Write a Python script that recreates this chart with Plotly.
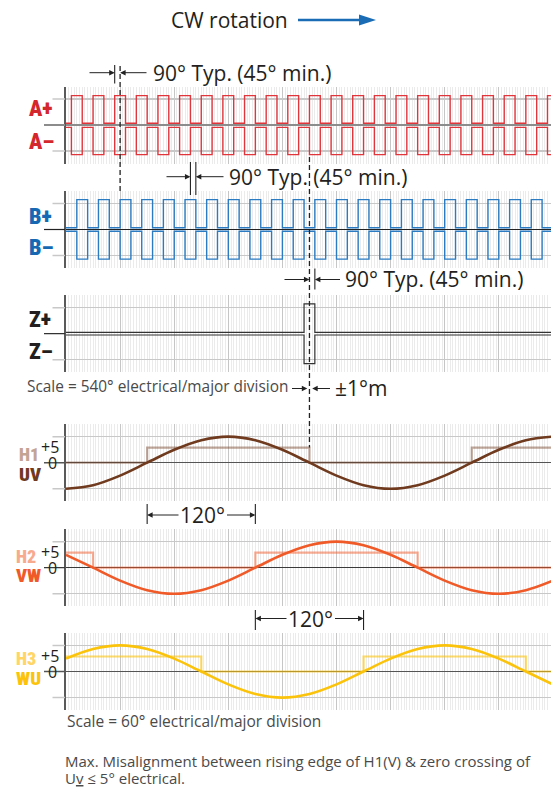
import plotly.graph_objects as go

W, H = 551, 787

# ---------------- data ----------------
# Encoder channels: x measured in major divisions (540 deg electrical per division)
A_RISE = [0.1, 0.5, 0.9, 1.3, 1.7, 2.1, 2.5, 2.9, 3.3, 3.7, 4.1, 4.5,
          4.9, 5.3, 5.7, 6.1, 6.5, 6.9, 7.3, 7.7, 8.1, 8.5, 8.9]
A_FALL = [0.3, 0.7, 1.1, 1.5, 1.9, 2.3, 2.7, 3.1, 3.5, 3.9, 4.3, 4.7,
          5.1, 5.5, 5.9, 6.3, 6.7, 7.1, 7.5, 7.9, 8.3, 8.7, 9.1]
B_RISE = [0.2, 0.6, 1.0, 1.4, 1.8, 2.2, 2.6, 3.0, 3.4, 3.8, 4.2, 4.6,
          5.0, 5.4, 5.8, 6.2, 6.6, 7.0, 7.4, 7.8, 8.2, 8.6]
B_FALL = [0.4, 0.8, 1.2, 1.6, 2.0, 2.4, 2.8, 3.2, 3.6, 4.0, 4.4, 4.8,
          5.2, 5.6, 6.0, 6.4, 6.8, 7.2, 7.6, 8.0, 8.4, 8.8]
Z_RISE = [4.4]
Z_FALL = [4.6]

# (idle level, active level) for each line, grid lines sit at +/-1
A_PLUS_LEVELS = (0.07, 1.13)
A_MINUS_LEVELS = (-0.09, -1.14)
B_PLUS_LEVELS = (0.07, 1.15)
B_MINUS_LEVELS = (-0.07, -1.14)
Z_PLUS_LEVELS = (0.05, 1.15)
Z_MINUS_LEVELS = (-0.05, -1.15)

# Hall / commutation signals: x in electrical degrees (60 deg per division)
DEG = [0, 30, 60, 90, 120, 150, 180, 210, 240, 270, 300, 330,
       360, 390, 420, 450, 480, 510, 540]
UV_WAVE = [-8.7, -7.5, -4.3, 0, 4.3, 7.5, 8.7, 7.5, 4.3, 0, -4.3, -7.5,
           -8.7, -7.5, -4.3, 0, 4.3, 7.5, 8.7]
VW_WAVE = [4.3, 0, -4.3, -7.5, -8.7, -7.5, -4.3, 0, 4.3, 7.5, 8.7, 7.5,
           4.3, 0, -4.3, -7.5, -8.7, -7.5, -4.3]
WU_WAVE = [4.3, 7.5, 8.7, 7.5, 4.3, 0, -4.3, -7.5, -8.7, -7.5, -4.3, 0,
           4.3, 7.5, 8.7, 7.5, 4.3, 0, -4.3]

H1_EDGES = [0, 90, 270, 450, 540]
H1_LEVELS = [0, 5, 0, 5, 5]
H2_EDGES = [0, 30, 210, 390, 540]
H2_LEVELS = [5, 0, 5, 0, 0]
H3_EDGES = [0, 150, 330, 510, 540]
H3_LEVELS = [5, 0, 5, 0, 0]

HALL_HIGH = 5
HALL_PEAK = 8.67

# ---------------- geometry ----------------
AX_LEFT = 66.0          # px of the left axis line
DIV_PX = 54.1           # px per major division
X_MAX = (W - AX_LEFT) / DIV_PX
HALF = 38.5             # half height of each strip in px
GRID_PX = 26.0          # px from centre to the outer grid lines
ENC_R = HALF / GRID_PX
HALL_R = HALF / (GRID_PX / HALL_PEAK)

CENTERS = [125.0, 229.5, 333.7, 462.7, 567.7, 671.5]


def px(x):
    return x / W


def py(y):
    return 1 - y / H


def div_of(xpx):
    return (xpx - AX_LEFT) / DIV_PX


def deg_of(xpx):
    return (xpx - AX_LEFT) / DIV_PX * 60


TEXT_FONT = "Open Sans, Noto Sans, sans-serif"
LABEL_FONT = "Roboto Condensed, Roboto, sans-serif"
INK = "#231f20"
NOTE = "#4a4a4a"

RED, RED_LABEL = "#e1353c", "#d4262d"
BLUE, BLUE_LABEL = "#2a7bc1", "#1668b2"
BROWN = "#6f3a1e"
ORANGE = "#f05a28"
GOLD = "#fcc30b"


def rgba(hexc, a):
    h = hexc.lstrip("#")
    r, g, b = int(h[0:2], 16), int(h[2:4], 16), int(h[4:6], 16)
    return f"rgba({r},{g},{b},{a})"


def pulse_xy(rises, falls, levels, x_end):
    idle, active = levels
    xs, ys = [0], [idle]
    for r, f in zip(rises, falls):
        xs += [r, f]
        ys += [active, idle]
    xs.append(x_end)
    ys.append(ys[-1])
    return xs, ys


fig = go.Figure()
layout = dict(width=W, height=H, margin=dict(l=0, r=0, t=0, b=0),
              paper_bgcolor="white", plot_bgcolor="white", showlegend=False,
              hovermode=False, font=dict(family=TEXT_FONT, color=INK))

zero_styles = [("#8c8c8c", 2.2), ("#222222", 1.2), (None, 0),
               ("#555555", 1.5), ("#3a3a3a", 1.2), ("#555555", 1.5)]

for i, c in enumerate(CENTERS):
    n = "" if i == 0 else str(i + 1)
    hall = i >= 3
    zc, zw = zero_styles[i]
    layout["xaxis" + n] = dict(
        domain=[px(AX_LEFT), 1], anchor="y" + n,
        range=[0, X_MAX * (60 if hall else 1)],
        tick0=0, dtick=60 if hall else 1,
        showgrid=True, gridcolor="#c6c6c6", gridwidth=1,
        minor=dict(dtick=3 if hall else 0.05, showgrid=True,
                   gridcolor="#ebebeb", gridwidth=1),
        showticklabels=False, ticks="", zeroline=False, showline=False,
        fixedrange=True)
    r = HALL_R if hall else ENC_R
    g = HALL_PEAK if hall else 1
    layout["yaxis" + n] = dict(
        domain=[py(c + HALF), py(c - HALF)], anchor="x" + n,
        range=[-r, r], tickvals=[-g, g], showgrid=True,
        gridcolor="#c8c8c8", gridwidth=1.5,
        zeroline=zc is not None, zerolinecolor=zc or "#000", zerolinewidth=zw or 1,
        showline=True, linecolor="#5a5a5a", linewidth=2,
        showticklabels=False, ticks="", fixedrange=True)

# ---------------- encoder traces ----------------
enc = [
    ("x", "y", A_RISE, A_FALL, A_PLUS_LEVELS, RED, 1.4),
    ("x", "y", A_RISE, A_FALL, A_MINUS_LEVELS, RED, 1.4),
    ("x2", "y2", B_RISE, B_FALL, B_PLUS_LEVELS, BLUE, 1.4),
    ("x2", "y2", B_RISE, B_FALL, B_MINUS_LEVELS, BLUE, 1.4),
    ("x3", "y3", Z_RISE, Z_FALL, Z_PLUS_LEVELS, "#333333", 1.2),
    ("x3", "y3", Z_RISE, Z_FALL, Z_MINUS_LEVELS, "#333333", 1.2),
]
for xa, ya, rs, fs, lv, col, w in enc:
    xs, ys = pulse_xy(rs, fs, lv, X_MAX + 0.5)
    fig.add_trace(go.Scatter(x=xs, y=ys, xaxis=xa, yaxis=ya, mode="lines",
                             line=dict(color=col, width=w, shape="hv")))

# ---------------- hall traces ----------------
hall = [
    ("x4", "y4", H1_EDGES, H1_LEVELS, UV_WAVE, BROWN, 0.45),
    ("x5", "y5", H2_EDGES, H2_LEVELS, VW_WAVE, ORANGE, 0.5),
    ("x6", "y6", H3_EDGES, H3_LEVELS, WU_WAVE, GOLD, 0.6),
]
for xa, ya, ex, lv, wave, col, alpha in hall:
    fig.add_trace(go.Scatter(x=ex, y=lv, xaxis=xa, yaxis=ya, mode="lines",
                             line=dict(color=rgba(col, alpha), width=2.2, shape="hv")))
    fig.add_trace(go.Scatter(x=DEG, y=wave, xaxis=xa, yaxis=ya, mode="lines",
                             line=dict(color=col, width=2.6, shape="spline", smoothing=1)))

shapes = []
annots = []

# grid / centre line stubs left of the axis
for i, c in enumerate(CENTERS):
    n = "" if i == 0 else str(i + 1)
    g = HALL_PEAK if i >= 3 else 1
    for gy in (-g, g):
        shapes.append(dict(type="line", xref="paper", yref="y" + n,
                           x0=px(52.5), x1=px(AX_LEFT - 1), y0=gy, y1=gy,
                           line=dict(color="#c8c8c8", width=1.5)))
    zc = zero_styles[i][0] or "#333333"
    zw = zero_styles[i][1] or 1.2
    shapes.append(dict(type="line", xref="paper", yref="y" + n,
                       x0=px(44), x1=px(AX_LEFT - 1), y0=0, y1=0,
                       line=dict(color=zc, width=zw)))


def vline(xref, x, y0, y1, dash=None, width=1.1):
    ln = dict(color="#222222", width=width)
    if dash:
        ln["dash"] = dash
    shapes.append(dict(type="line", xref=xref, yref="paper", x0=x, x1=x,
                       y0=py(y0), y1=py(y1), line=ln, layer="above"))


def harrow(xref, tail, head, ypx):
    annots.append(dict(xref=xref, yref="paper", x=head, y=py(ypx),
                       axref=xref, ax=tail, ayref="pixel", ay=0, text="",
                       showarrow=True, arrowhead=2, arrowsize=1.1,
                       arrowwidth=1, arrowcolor="#222222"))


def text(xpx, ypx, s, size, anchor="left", color=INK, family=TEXT_FONT, weight="normal"):
    annots.append(dict(xref="paper", yref="paper", x=px(xpx), y=py(ypx),
                       text=s, showarrow=False, xanchor=anchor, yanchor="middle",
                       font=dict(size=size, color=color, family=family, weight=weight)))


# phase dimension A -> B
vline("x", 0.9, 65, 83.5)
vline("x", 1.0, 66, 192, dash="5px,3px", width=1.3)
harrow("x", div_of(88), 0.9, 72.7)
harrow("x", div_of(148), 1.0, 72.7)
text(151, 72.5, "90° Typ. (45° min.)", 21)

# phase dimension B
vline("x", 2.3, 162, 195)
vline("x", 2.4, 162, 195)
harrow("x", div_of(165), 2.3, 176.7)
harrow("x", div_of(225), 2.4, 176.7)
text(226.6, 176.5, "90° Typ. (45° min.)", 21)

# index pulse dimension
vline("x", 4.5, 157, 447.5, dash="5px,3px", width=1.3)
vline("x", 4.6, 268.5, 289.5)
harrow("x", div_of(283), 4.5, 279.5)
harrow("x", div_of(341.5), 4.6, 279.5)
text(342.7, 279.3, "90° Typ. (45° min.)", 21)

# index vs commutation alignment
text(289.5, 386, "Scale = 540° electrical/major division", 15.4, anchor="right", color=NOTE)
harrow("x", div_of(290.5), 4.46, 388.5)
harrow("x", div_of(331.5), 4.55, 388.5)
text(332.7, 388.3, "±1°m", 21)

# 120 degree dimensions
vline("x4", 90, 504, 524)
vline("x4", 210, 504, 524)
harrow("x4", deg_of(180), 90, 515)
harrow("x4", deg_of(225.5), 210, 515)
text(66 + 2.5 * DIV_PX + 1.5, 515, "120°", 21, anchor="center")

vline("x5", 210, 610, 630)
vline("x5", 330, 610, 630)
harrow("x5", deg_of(288), 210, 618.5)
harrow("x5", deg_of(333.5), 330, 618.5)
text(66 + 4.5 * DIV_PX + 1.5, 618.5, "120°", 21, anchor="center")

# channel labels
LBL_W = 900
text(27.3, 108.5, "A+", 22, color=RED_LABEL, family=LABEL_FONT, weight=LBL_W)
text(27.3, 142, "A–", 22, color=RED_LABEL, family=LABEL_FONT, weight=LBL_W)
text(27.3, 216, "B+", 22, color=BLUE_LABEL, family=LABEL_FONT, weight=LBL_W)
text(27.3, 247.5, "B–", 22, color=BLUE_LABEL, family=LABEL_FONT, weight=LBL_W)
text(27.3, 320, "Z+", 22, color=INK, family=LABEL_FONT, weight=LBL_W)
text(27.3, 351.7, "Z–", 22, color=INK, family=LABEL_FONT, weight=LBL_W)

hall_labels = [
    ("H1", "UV", 454.7, 474.2, "#c4a393", BROWN, 16.5),
    ("H2", "VW", 556.3, 575.5, "#f8aa8f", ORANGE, 14),
    ("H3", "WU", 658.8, 678.8, "#ffd566", GOLD, 13.5),
]
for top, bot, yt, yb, ct, cb, xl in hall_labels:
    text(xl, yt, top, 18, color=ct, family=LABEL_FONT, weight=LBL_W)
    text(xl, yb, bot, 19, color=cb, family=LABEL_FONT, weight=LBL_W)

for n in ("4", "5", "6"):
    annots.append(dict(xref="paper", yref="y" + n, x=px(60.5), y=HALL_HIGH + 0.3,
                       text="+5", showarrow=False, xanchor="right", yanchor="middle",
                       font=dict(size=16, color=INK, family=TEXT_FONT)))
    annots.append(dict(xref="paper", yref="y" + n, x=px(58.8), y=0,
                       text="0", showarrow=False, xanchor="right", yanchor="middle",
                       font=dict(size=16, color=INK, family=TEXT_FONT)))

# header
text(290, 20, "CW rotation", 21, anchor="right")
shapes.append(dict(type="line", xref="paper", yref="paper", x0=px(298), x1=px(362),
                   y0=py(20), y1=py(20), line=dict(color="#1a6db5", width=2.6)))
shapes.append(dict(type="path", xref="paper", yref="paper",
                   path=f"M {px(359)},{py(14.5)} L {px(376)},{py(20)} L {px(359)},{py(25.5)} Z",
                   fillcolor="#1a6db5", line=dict(width=0)))

# footer notes
text(65, 720.5, "Scale = 60° electrical/major division", 15.5, color=NOTE)
text(63.3, 760.5, "Max. Misalignment between rising edge of H1(V) &amp; zero crossing of",
     15, color=NOTE)
text(63.3, 778, "U<span style=\"text-decoration:underline\">v</span> ≤ 5° electrical.",
     15, color=NOTE)

layout["shapes"] = shapes
layout["annotations"] = annots
fig.update_layout(**layout)

fig.write_html("out.html", config={"displayModeBar": False, "staticPlot": True})
